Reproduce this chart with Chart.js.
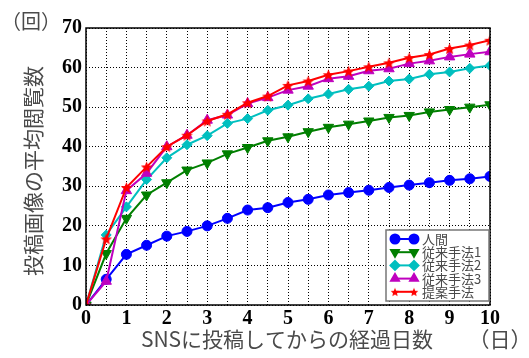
<!DOCTYPE html>
<html>
<head>
<meta charset="utf-8">
<script src="https://cdn.jsdelivr.net/npm/chart.js@4"></script>
<style>
  body { margin: 0; background: #fff; }
  canvas { display: block; }
</style>
</head>
<body>
<canvas id="chart" width="529" height="358"></canvas>
<script>
// days since posting (every half day)
const days = [0, 0.5, 1, 1.5, 2, 2.5, 3, 3.5, 4, 4.5, 5, 5.5, 6, 6.5, 7, 7.5, 8, 8.5, 9, 9.5, 10];

const seriesNames = ['人間', '従来手法1', '従来手法2', '従来手法3', '提案手法'];

const human   = [0, 6.5, 12.8, 15.1, 17.4, 18.6, 20.0, 21.9, 24.0, 24.6, 25.9, 26.7, 27.8, 28.4, 29.0, 29.7, 30.3, 30.9, 31.5, 31.9, 32.5];
const method1 = [0, 13.0, 21.9, 27.8, 30.9, 34.1, 35.9, 38.2, 39.8, 41.5, 42.5, 43.8, 44.9, 45.7, 46.5, 47.4, 47.9, 48.8, 49.4, 50.0, 50.6];
const method2 = [0, 17.7, 24.8, 31.7, 37.2, 40.5, 42.8, 45.9, 47.1, 49.2, 50.5, 52.1, 53.3, 54.5, 55.3, 56.6, 57.1, 58.3, 58.9, 59.8, 60.5];
const method3 = [0, 6.0, 28.9, 33.3, 40.0, 42.9, 46.7, 48.0, 50.9, 52.4, 54.3, 55.3, 57.2, 57.8, 59.2, 59.7, 61.0, 61.7, 62.7, 63.4, 64.0];
const proposed = [0, 16.7, 29.7, 34.9, 40.0, 42.9, 46.5, 48.2, 51.1, 52.8, 55.5, 56.6, 58.2, 59.1, 60.2, 61.2, 62.5, 63.3, 64.8, 65.7, 66.9];

const yTicks = [0, 10, 20, 30, 40, 50, 60, 70];

// filled five-point star used as the marker of the proposed method
function makeStar(size, color) {
    const c = document.createElement('canvas');
    c.width = size; c.height = size;
    const g = c.getContext('2d');
    const r = size / 2, ri = r * 0.42;
    g.beginPath();
    for (let i = 0; i < 10; i++) {
        const rad = i % 2 === 0 ? r - 0.5 : ri;
        const a = -Math.PI / 2 + i * Math.PI / 5;
        const px = r + rad * Math.cos(a), py = r + 0.6 + rad * Math.sin(a);
        i === 0 ? g.moveTo(px, py) : g.lineTo(px, py);
    }
    g.closePath();
    g.fillStyle = color;
    g.fill();
    return c;
}
const star = makeStar(13, '#ff0000');
const smallStar = makeStar(10, '#ff0000');

function toPoints(vals) {
    return vals.map((v, i) => ({ x: days[i], y: v }));
}

const styles = [
    { color: '#0000ff', pointStyle: 'circle', radius: 5, rotation: 0, legendStyle: 'circle' },
    { color: '#007f00', pointStyle: 'triangle', radius: 6, rotation: 180, legendStyle: 'triangle' },
    { color: '#00bfbf', pointStyle: 'rectRot', radius: 5, rotation: 0, legendStyle: 'rectRot' },
    { color: '#bf00bf', pointStyle: 'triangle', radius: 6, rotation: 0, legendStyle: 'triangle' },
    { color: '#ff0000', pointStyle: star, radius: 6, rotation: 0, legendStyle: smallStar }
];
const allValues = [human, method1, method2, method3, proposed];

const datasets = allValues.map((vals, i) => ({
    label: seriesNames[i],
    data: toPoints(vals),
    borderColor: styles[i].color,
    backgroundColor: styles[i].color,
    borderWidth: 2,
    pointStyle: styles[i].pointStyle,
    pointRadius: styles[i].radius,
    pointRotation: styles[i].rotation,
    pointBorderWidth: 1,
    tension: 0,
    order: 4 - i
}));

const grey = '#4a4a4a';

// frame, axis titles and the legend box in the lower right corner
const decorations = {
    id: 'decorations',
    afterDatasetsDraw(chart) {
        const ctx = chart.ctx;
        const a = chart.chartArea;
        ctx.save();
        ctx.strokeStyle = '#000';
        ctx.lineWidth = 1.5;
        ctx.setLineDash([]);
        ctx.strokeRect(a.left, a.top, a.right - a.left, a.bottom - a.top);

        // legend
        const lx = 386, ly = 230, lw = 103, lh = 71;
        ctx.fillStyle = '#fff';
        ctx.fillRect(lx, ly, lw, lh);
        ctx.strokeStyle = '#777';
        ctx.lineWidth = 1.5;
        ctx.strokeRect(lx, ly, lw, lh);
        ctx.font = '13px "Noto Sans CJK JP"';
        ctx.textBaseline = 'middle';
        ctx.textAlign = 'left';
        chart.data.datasets.forEach((ds, i) => {
            const y = ly + 9 + i * 13.2;
            ctx.strokeStyle = ds.borderColor;
            ctx.lineWidth = 2;
            ctx.beginPath();
            ctx.moveTo(395, y);
            ctx.lineTo(414, y);
            ctx.stroke();
            const opts = {
                pointStyle: styles[i].legendStyle,
                radius: 4.5,
                rotation: ds.pointRotation,
                borderWidth: 1
            };
            [395, 414].forEach(px => {
                ctx.fillStyle = ds.backgroundColor;
                ctx.strokeStyle = ds.borderColor;
                Chart.helpers.drawPoint(ctx, opts, px, y);
            });
            ctx.fillStyle = grey;
            ctx.fillText(ds.label, 422, y);
        });

        // axis titles
        ctx.fillStyle = grey;
        ctx.font = '21px "Noto Sans CJK JP"';
        ctx.textAlign = 'center';
        ctx.textBaseline = 'middle';
        ctx.fillText('SNSに投稿してからの経過日数', 287, 339);
        ctx.fillText('（日）', 500, 339);
        ctx.font = '20px "Noto Sans CJK JP"';
        ctx.fillText('（回）', 31, 21);
        ctx.font = '21px "Noto Sans CJK JP"';
        ctx.translate(33, 171);
        ctx.rotate(-Math.PI / 2);
        ctx.fillText('投稿画像の平均閲覧数', 0, 0);
        ctx.restore();
    }
};

new Chart(document.getElementById('chart'), {
    type: 'line',
    data: { datasets: datasets },
    options: {
        responsive: false,
        animation: false,
        layout: { padding: { left: 0, top: 28, right: 39, bottom: 0 } },
        plugins: {
            legend: { display: false },
            tooltip: { enabled: false }
        },
        scales: {
            x: {
                type: 'linear',
                min: 0,
                max: 10,
                afterFit: s => { s.height = 53; },
                ticks: {
                    stepSize: 0.5,
                    autoSkip: false,
                    maxRotation: 0,
                    padding: 2,
                    color: '#000',
                    font: { family: '"Liberation Serif"', size: 20, weight: 'bold' },
                    callback: v => Number.isInteger(v) ? String(v) : ''
                },
                grid: { color: '#000', lineWidth: 1, drawTicks: false },
                border: { display: false, dash: [1, 2] }
            },
            y: {
                min: 0,
                max: 70,
                afterFit: s => { s.width = 86; },
                afterBuildTicks: s => { s.ticks = yTicks.map(v => ({ value: v })); },
                ticks: {
                    padding: 4,
                    color: '#000',
                    font: { family: '"Liberation Serif"', size: 20, weight: 'bold' }
                },
                grid: { color: '#000', lineWidth: 1, drawTicks: false },
                border: { display: false, dash: [1, 2] }
            }
        }
    },
    plugins: [decorations]
});
</script>
</body>
</html>
